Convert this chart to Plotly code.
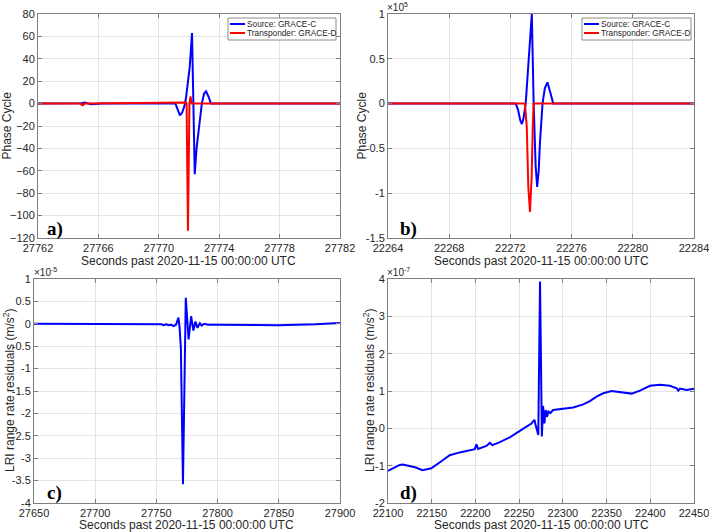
import plotly.graph_objects as go

# ---------------- data ----------------
# Panel a) phase cycle, seconds past 2020-11-15 00:00:00 UTC
a_src_t = [27762, 27764.6, 27764.9, 27765.1, 27765.3, 27765.5, 27765.8, 27766.2,
           27771.1, 27771.25, 27771.4, 27771.55, 27771.7, 27771.8, 27771.95, 27772.05,
           27772.2, 27772.38, 27772.5, 27772.65, 27772.85, 27773.0, 27773.13, 27773.3,
           27773.45, 27782]
a_src_v = [0, 0, 0.3, 1.0, 0.5, -0.6, -0.4, 0,
           0, -5, -10.5, -8, -2, 5, 22, 33,
           63, -63, -40, -22, 0, 9, 11, 6,
           0, 0]
a_trp_t = [27762, 27764.8, 27764.95, 27765.1, 27771.8, 27771.84, 27771.93, 27772.03,
           27772.1, 27772.18, 27782]
a_trp_v = [0, 0, -1.5, 0, 1, 0, -113.5, 0,
           6.5, 0, 0]

# Panel b) phase cycle (values in cycles)
b_src_t = [22264, 22272.35, 22272.5, 22272.65, 22272.75, 22272.85, 22273.0, 22273.2,
           22273.4, 22273.52, 22273.65, 22273.75, 22273.85, 22273.93, 22274.1, 22274.25,
           22274.42, 22274.6, 22274.8, 22284]
b_src_v = [0, 0, -0.07e5, -0.19e5, -0.228e5, -0.17e5, 0, 0.52e5,
           1.0e5, 0, -0.7e5, -0.93e5, -0.75e5, -0.44e5, 0, 0.17e5,
           0.238e5, 0.13e5, 0, 0]
b_trp_t = [22264, 22272.95, 22273.07, 22273.17, 22273.28, 22273.39, 22273.46, 22273.52, 22284]
b_trp_v = [0, 0, -0.26e5, -0.93e5, -1.21e5, -0.82e5, -0.26e5, 0, 0]

# Panel c) LRI range rate residuals (m/s^2)
c_t = [27650, 27700, 27740, 27752, 27754, 27756, 27758, 27760, 27762, 27764, 27766,
       27768, 27769, 27770, 27771.7, 27774.0, 27776.3, 27778.4, 27780.2, 27781.9,
       27783.5, 27785.5, 27787, 27789, 27792, 27800, 27850, 27880, 27900]
c_v = [0.0, -0.01e-5, -0.01e-5, -0.02e-5, -0.01e-5, -0.03e-5, -0.01e-5, -0.03e-5,
       -0.02e-5, -0.05e-5, -0.02e-5, 0.14e-5, -0.1e-5, -0.55e-5, -3.58e-5, 0.58e-5,
       -0.35e-5, 0.17e-5, -0.15e-5, 0.05e-5, -0.09e-5, 0.01e-5, -0.04e-5, 0.0,
       -0.02e-5, -0.02e-5, -0.03e-5, -0.01e-5, 0.02e-5]

# Panel d) LRI range rate residuals (m/s^2)
d_t = [22100, 22113.4, 22117, 22132, 22139.3, 22149.6, 22161, 22170.6, 22182, 22197.3,
       22199.2, 22201.1, 22203, 22212.6, 22216.4, 22219.5, 22227.9, 22239.3, 22250.8,
       22258.4, 22264.1, 22267.5, 22268.9, 22271.9, 22273.9, 22276.0, 22277.4, 22278.9,
       22280.4, 22281.9, 22283.5, 22285.7, 22288.8, 22300.4, 22311.8, 22323.3, 22330.9,
       22338.5, 22346.2, 22355.7, 22361.5, 22372.9, 22378.6, 22388.2, 22399.6, 22411.1,
       22422.5, 22430.2, 22432, 22434, 22441.6, 22450]
d_v = [-1.14e-7, -0.98e-7, -0.97e-7, -1.05e-7, -1.12e-7, -1.07e-7, -0.88e-7, -0.72e-7,
       -0.645e-7, -0.57e-7, -0.56e-7, -0.43e-7, -0.55e-7, -0.47e-7, -0.39e-7, -0.45e-7,
       -0.37e-7, -0.24e-7, -0.08e-7, 0.045e-7, 0.13e-7, 0.23e-7, 0.08e-7, -0.18e-7,
       3.93e-7, -0.22e-7, 0.6e-7, 0.13e-7, 0.49e-7, 0.31e-7, 0.45e-7, 0.41e-7, 0.49e-7,
       0.53e-7, 0.56e-7, 0.64e-7, 0.73e-7, 0.85e-7, 0.94e-7, 1.0e-7, 0.985e-7, 0.94e-7,
       0.93e-7, 1.01e-7, 1.14e-7, 1.17e-7, 1.14e-7, 1.07e-7, 1.01e-7, 1.065e-7, 1.03e-7,
       1.06e-7]

# tick values / labels
a_xticks = [27762, 27766, 27770, 27774, 27778, 27782]
a_yticks = [-120, -100, -80, -60, -40, -20, 0, 20, 40, 60, 80]
b_xticks = [22264, 22268, 22272, 22276, 22280, 22284]
b_yticks = [-1.5e5, -1e5, -0.5e5, 0, 0.5e5, 1e5]
b_ylabels = ["-1.5", "-1", "-0.5", "0", "0.5", "1"]
c_xticks = [27650, 27700, 27750, 27800, 27850, 27900]
c_yticks = [-4e-5, -3.5e-5, -3e-5, -2.5e-5, -2e-5, -1.5e-5, -1e-5, -0.5e-5, 0, 0.5e-5, 1e-5]
c_ylabels = ["-4", "-3.5", "-3", "-2.5", "-2", "-1.5", "-1", "-0.5", "0", "0.5", "1"]
d_xticks = [22100, 22150, 22200, 22250, 22300, 22350, 22400, 22450]
d_yticks = [-2e-7, -1e-7, 0, 1e-7, 2e-7, 3e-7, 4e-7]
d_ylabels = ["-2", "-1", "0", "1", "2", "3", "4"]

src_name = "Source: GRACE-C"
trp_name = "Transponder: GRACE-D"
xtitle = "Seconds past 2020-11-15 00:00:00 UTC"
ytitle_phase = "Phase Cycle"
ytitle_lri = "LRI range rate residuals (m/s<sup>2</sup>)"

# ---------------- figure ----------------
W, H = 709, 532
BLUE, RED = "#0000ff", "#ff0000"
FONT = "Liberation Sans, Arial, Helvetica, sans-serif"
TXT = "#262626"


def px_x(p):
    return p / W


def px_y(p):
    return 1 - p / H


fig = go.Figure()
fig.add_trace(go.Scatter(x=a_src_t, y=a_src_v, mode="lines", name=src_name, showlegend=False,
                         line=dict(color=BLUE, width=2), xaxis="x", yaxis="y"))
fig.add_trace(go.Scatter(x=a_trp_t, y=a_trp_v, mode="lines", name=trp_name, showlegend=False,
                         line=dict(color=RED, width=2), xaxis="x", yaxis="y"))
fig.add_trace(go.Scatter(x=b_src_t, y=b_src_v, mode="lines", name=src_name, showlegend=False,
                         line=dict(color=BLUE, width=2), xaxis="x2", yaxis="y2"))
fig.add_trace(go.Scatter(x=b_trp_t, y=b_trp_v, mode="lines", name=trp_name, showlegend=False,
                         line=dict(color=RED, width=2), xaxis="x2", yaxis="y2"))
fig.add_trace(go.Scatter(x=c_t, y=c_v, mode="lines", showlegend=False,
                         line=dict(color=BLUE, width=2), xaxis="x3", yaxis="y3"))
fig.add_trace(go.Scatter(x=d_t, y=d_v, mode="lines", showlegend=False,
                         line=dict(color=BLUE, width=2), xaxis="x4", yaxis="y4"))

common = dict(showline=True, linecolor="#7f7f7f", linewidth=1, mirror="ticks",
              ticks="inside", ticklen=4, tickcolor="#7f7f7f",
              showgrid=True, gridcolor="#e3e3e3", gridwidth=1, zeroline=False,
              tickfont=dict(family=FONT, size=11, color=TXT), automargin=False,
              ticklabeloverflow="allow")
xcommon = dict(common, tickformat="d")

LEFT_X = [px_x(38), px_x(340)]
LEFT_X_C = [px_x(34), px_x(340)]
RIGHT_X = [px_x(388), px_x(694)]
TOP_Y = [px_y(238), px_y(14)]
BOT_Y = [px_y(503), px_y(279)]

fig.update_layout(
    width=W, height=H, margin=dict(l=0, r=0, t=0, b=0),
    paper_bgcolor="white", plot_bgcolor="white",
    font=dict(family=FONT, color=TXT), showlegend=False,
    xaxis=dict(domain=LEFT_X, anchor="y", range=[27762, 27782], tickvals=a_xticks, **xcommon),
    yaxis=dict(domain=TOP_Y, anchor="x", range=[-120, 80], tickvals=a_yticks, **common),
    xaxis2=dict(domain=RIGHT_X, anchor="y2", range=[22264, 22284], tickvals=b_xticks, **xcommon),
    yaxis2=dict(domain=TOP_Y, anchor="x2", range=[-1.5e5, 1e5], tickvals=b_yticks,
                ticktext=b_ylabels, **common),
    xaxis3=dict(domain=LEFT_X_C, anchor="y3", range=[27650, 27900], tickvals=c_xticks, **xcommon),
    yaxis3=dict(domain=BOT_Y, anchor="x3", range=[-4e-5, 1e-5], tickvals=c_yticks,
                ticktext=c_ylabels, **common),
    xaxis4=dict(domain=RIGHT_X, anchor="y4", range=[22100, 22450], tickvals=d_xticks, **xcommon),
    yaxis4=dict(domain=BOT_Y, anchor="x4", range=[-2e-7, 4e-7], tickvals=d_yticks,
                ticktext=d_ylabels, **common),
)

title_font = dict(family=FONT, size=12, color=TXT)
# axis titles (x: centred under each panel; y: rotated at the left)
for dom, ycen in [(LEFT_X, 260.5), (RIGHT_X, 260.5), (LEFT_X_C, 525), (RIGHT_X, 525)]:
    fig.add_annotation(text=xtitle, xref="paper", yref="paper", x=(dom[0] + dom[1]) / 2,
                       y=px_y(ycen), xanchor="center", yanchor="middle", showarrow=False,
                       font=title_font)
for xc, yc, txt in [(6.5, 126, ytitle_phase), (361.5, 126, ytitle_phase),
                    (9, 391, ytitle_lri), (369, 391, ytitle_lri)]:
    fig.add_annotation(text=txt, xref="paper", yref="paper", x=px_x(xc), y=px_y(yc),
                       xanchor="center", yanchor="middle", textangle=-90, showarrow=False,
                       font=title_font)

# panel letters
letter_font = dict(family="Liberation Serif, Times New Roman, serif", size=19, color="black")
for xl, yl, letter in [(46, 241, "a)"), (399, 241, "b)"), (46, 505, "c)"), (399, 505, "d)")]:
    fig.add_annotation(text="<b>%s</b>" % letter, xref="paper", yref="paper",
                       x=px_x(xl), y=px_y(yl), xanchor="left", yanchor="bottom",
                       showarrow=False, font=letter_font, borderpad=0)

# MATLAB-style exponent labels
exp_font = dict(family=FONT, size=10, color=TXT)
for xl, yb, txt in [(386, 14, "×10<sup>5</sup>"), (33, 279, "×10<sup>-5</sup>"),
                    (386, 279, "×10<sup>-7</sup>")]:
    fig.add_annotation(text=txt, xref="paper", yref="paper", x=px_x(xl), y=px_y(yb),
                       xanchor="left", yanchor="bottom", showarrow=False, font=exp_font,
                       borderpad=0)

# compact MATLAB-style legend boxes for panels a) and b)
leg_font = dict(family=FONT, size=8.3, color=TXT)
for x0, x1 in [(228, 336), (582, 691)]:
    fig.add_shape(type="rect", xref="paper", yref="paper",
                  x0=px_x(x0), x1=px_x(x1), y0=px_y(40), y1=px_y(18),
                  line=dict(color="#8c8c8c", width=1), fillcolor="white", layer="above")
    for yy, col, name in [(24, BLUE, src_name), (33, RED, trp_name)]:
        fig.add_shape(type="line", xref="paper", yref="paper",
                      x0=px_x(x0 + 2), x1=px_x(x0 + 17), y0=px_y(yy), y1=px_y(yy),
                      line=dict(color=col, width=2), layer="above")
        fig.add_annotation(text=name, xref="paper", yref="paper", x=px_x(x0 + 17.5),
                           y=px_y(yy), xanchor="left", yanchor="middle", showarrow=False,
                           font=leg_font, borderpad=0)

# remove the default page margin so the 709x532 figure fills the window exactly
fig.write_html("out.html", config={"displayModeBar": False},
               post_script="document.body.style.margin='0';document.body.style.overflow='hidden';")
